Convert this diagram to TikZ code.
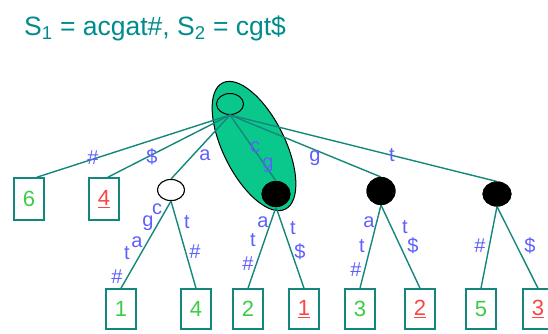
\documentclass[tikz,border=0pt]{standalone}
\usepackage{fontspec}
\setmainfont{Liberation Sans}
\usetikzlibrary{shapes.geometric}
\definecolor{edgecol}{RGB}{20,135,125}
\definecolor{labcol}{RGB}{95,95,255}
\definecolor{mintcol}{RGB}{10,200,140}
\definecolor{greendig}{RGB}{60,205,70}
\definecolor{reddig}{RGB}{250,70,70}
\definecolor{titlecol}{RGB}{0,140,140}
\begin{document}
\begin{tikzpicture}[x=1pt,y=-1pt,
  edge/.style={draw=edgecol, line width=1.4pt},
  lab/.style={text=labcol, font=\fontsize{20}{20}\selectfont, inner sep=0pt},
  leaf/.style={draw=edgecol, line width=1.6pt, fill=white, minimum width=30pt, minimum height=40pt, inner sep=0pt, font=\fontsize{22}{22}\selectfont},
  gleaf/.style={leaf, text=greendig},
  rleaf/.style={leaf, text=reddig},
  wnode/.style={ellipse, draw=black, line width=1pt, fill=white, minimum width=27pt, minimum height=21pt, inner sep=0pt},
  rootnode/.style={wnode, fill=none},
  bnode/.style={ellipse, draw=black, line width=1pt, fill=black, minimum width=28pt, minimum height=25pt, inner sep=0pt},
  hilite/.style={ellipse, draw=black, line width=1pt, fill=mintcol, minimum width=62pt, minimum height=141pt, inner sep=0pt}
]
\useasboundingbox (0,0) rectangle (548,333);
% title
\node[anchor=west, text=titlecol, font=\fontsize{26.5}{26.5}\selectfont, inner sep=0pt] (title) at (24,28) {S\textsubscript{1} = acgat\#, S\textsubscript{2} = cgt\$};
% highlight
\node[hilite, rotate=26.4] (hl) at (254,146) {};
% nodes
\node[rootnode] (r) at (230,104) {};
\node[wnode] (wa) at (171,190) {};
\node[bnode] (b1) at (276,194) {};
\node[bnode, minimum height=27pt] (b2) at (381,191) {};
\node[bnode, minimum height=24pt] (b3) at (497,194) {};
% leaves
\node[gleaf, minimum height=42pt] (l6) at (29,199) {6};
\node[rleaf, minimum height=42pt] (l4a) at (104,199) {\underline{4}};
\node[gleaf] (l1) at (121,309) {1};
\node[gleaf] (l4) at (196,309) {4};
\node[gleaf] (l2) at (248,309) {2};
\node[rleaf] (l1r) at (304,309) {\underline{1}};
\node[gleaf] (l3) at (360,309) {3};
\node[rleaf] (l2r) at (420,309) {\underline{2}};
\node[gleaf] (l5) at (481,309) {5};
\node[rleaf] (l3r) at (538,309) {\underline{3}};
% edges
\draw[edge] (r.south) -- (l6.70);
\draw[edge] (r.south) -- (l4a.80);
\draw[edge] (r.south) -- (wa.north);
\draw[edge] (r.south) -- (b1.north);
\draw[edge] (r.south) -- (b2.north);
\draw[edge] (r.south) -- (b3.north);
\draw[edge] (wa.south) -- (l1.north);
\draw[edge] (wa.south) -- (l4.north);
\draw[edge] (b1.south) -- (l2.north);
\draw[edge] (b1.south) -- (l1r.north);
\draw[edge] (b2.south) -- (l3.north);
\draw[edge] (b2.south) -- (l2r.north);
\draw[edge] (b3.south) -- (l5.north);
\draw[edge] (b3.south) -- (l3r.north);
% redraw nodes on top of the edges
\node[wnode] at (wa) {};
\node[bnode] at (b1) {};
\node[bnode, minimum height=27pt] at (b2) {};
\node[bnode, minimum height=24pt] at (b3) {};
% labels
\node[lab] (e1) at (93,158) {\#};
\node[lab] (e2) at (152,157) {\$};
\node[lab] (e3) at (205,155) {a};
\node[lab] (e4) at (255,147) {c};
\node[lab] (e5) at (268,165) {g};
\node[lab] (e6) at (315,158) {g};
\node[lab] (e7) at (392,155) {t};
\node[lab] (f1) at (157,209) {c};
\node[lab] (f2) at (148,223) {g};
\node[lab] (f3) at (137,242) {a};
\node[lab] (f4) at (127,253) {t};
\node[lab] (f5) at (117,277) {\#};
\node[lab] (f6) at (187,222) {t};
\node[lab] (f7) at (195,252) {\#};
\node[lab] (g1) at (263,222) {a};
\node[lab] (g2) at (253,240) {t};
\node[lab] (g3) at (248,264) {\#};
\node[lab] (g4) at (293,228) {t};
\node[lab] (g5) at (300,252) {\$};
\node[lab] (h1) at (369,222) {a};
\node[lab] (h2) at (362,246) {t};
\node[lab] (h3) at (356,270) {\#};
\node[lab] (h4) at (405,227) {t};
\node[lab] (h5) at (413,246) {\$};
\node[lab] (k1) at (480,246) {\#};
\node[lab] (k2) at (530,246) {\$};
\end{tikzpicture}
\end{document}
